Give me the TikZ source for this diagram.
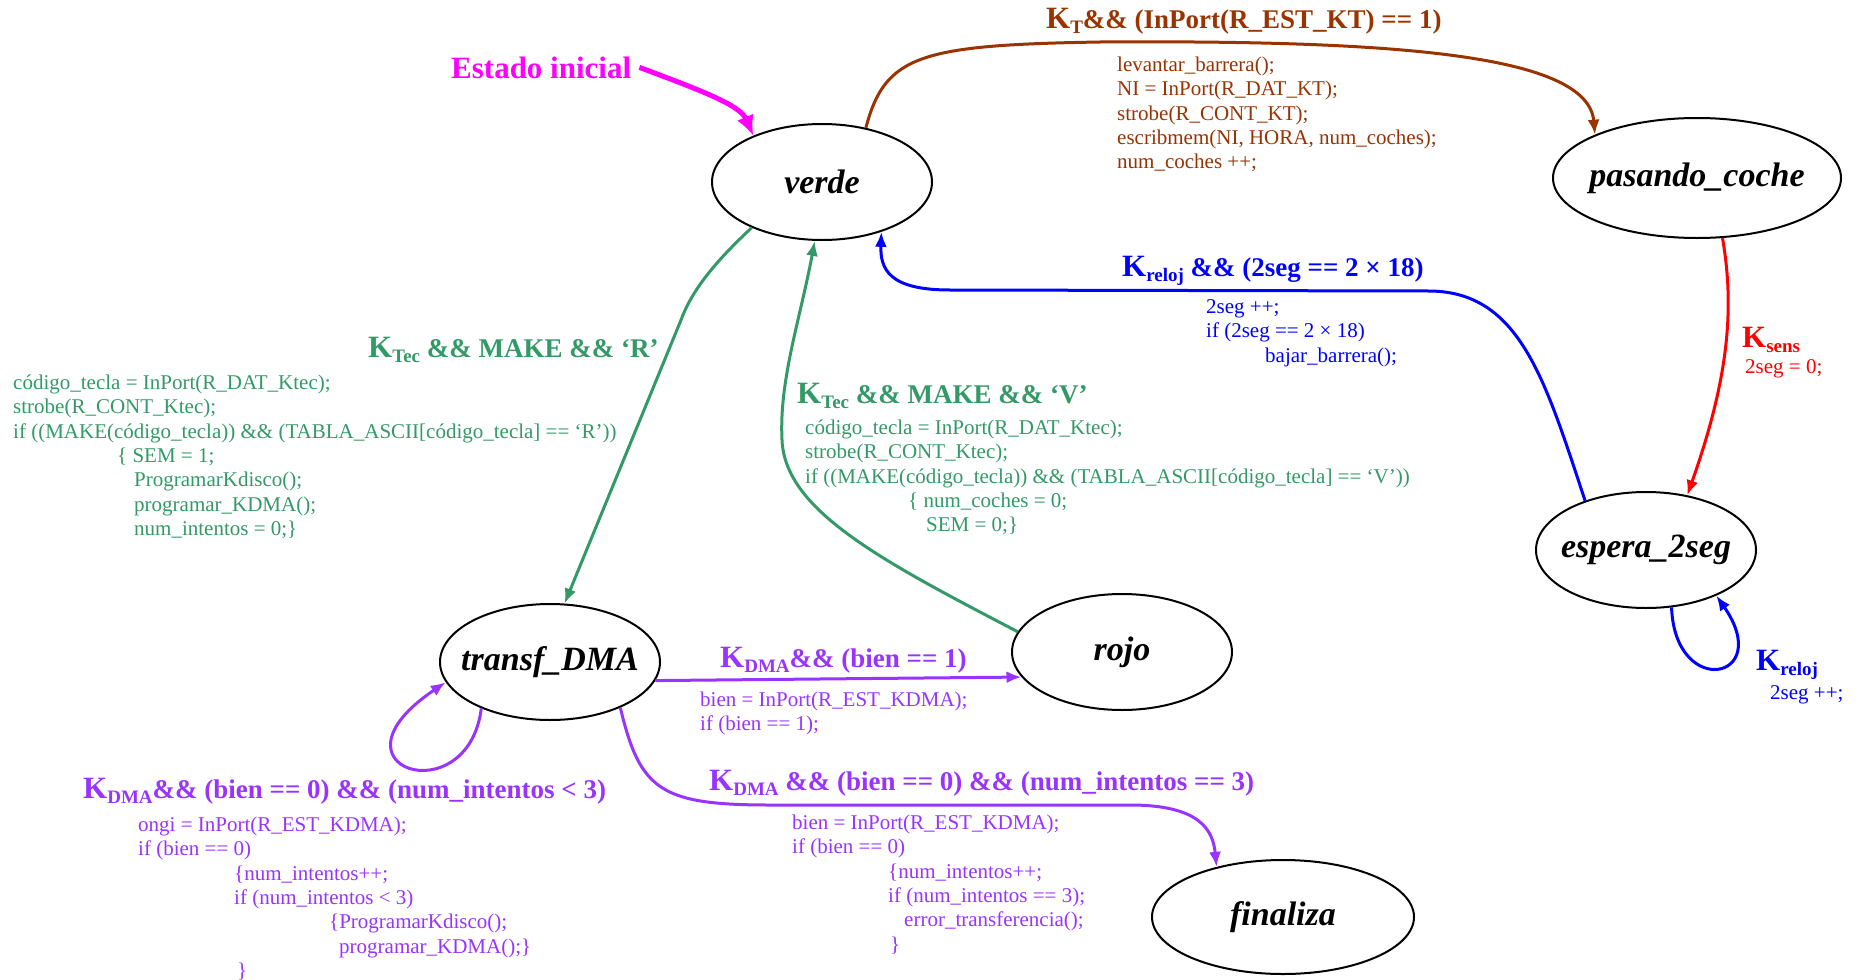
\documentclass[tikz,border=0pt]{standalone}
\usepackage{fontspec}
\setmainfont{Liberation Serif}
\usetikzlibrary{shapes.geometric,arrows.meta}
\definecolor{cbrown}{RGB}{153,51,0}
\definecolor{cgreen}{RGB}{51,153,102}
\definecolor{cblue}{RGB}{0,0,255}
\definecolor{cred}{RGB}{255,0,0}
\definecolor{cpurple}{RGB}{153,51,255}
\definecolor{cmag}{RGB}{255,0,255}
\newcommand{\KK}[1]{{\fontsize{31}{31}\selectfont K}\raisebox{-5.5pt}{\fontsize{19}{19}\selectfont #1}}
\newcommand{\stname}[1]{\makebox[0pt]{#1}}
\begin{document}
\begin{tikzpicture}[x=1pt,y=-1pt,
  stnode/.style={ellipse, draw=black, line width=2pt, inner sep=0pt,
    minimum width=220pt, minimum height=116pt,
    font=\fontsize{34}{34}\selectfont\bfseries\itshape},
  lbl/.style={anchor=base west, inner sep=0pt, font=\fontsize{27}{27}\selectfont\bfseries},
  codetxt/.style={anchor=north west, inner sep=0pt, align=left, font=\fontsize{21}{24.4}\selectfont},
  conn/.style={line width=3pt, -{Latex[length=15pt,width=12pt]}}]
\fill[white] (0,0) rectangle (1861,980);
\path[use as bounding box] (0,0) rectangle (1861,980);

% states
\node[stnode] (verde) at (822,182) {\stname{verde}};
\node[stnode, minimum width=288pt, minimum height=120pt] (pasando) at (1697,178) {\stname{pasando\_coche}};
\node[stnode] (espera) at (1646,550) {\stname{espera\_2seg}};
\node[stnode] (transf) at (550,662) {\stname{transf\_DMA}};
\node[stnode] (rojo) at (1122,652) {\stname{rojo}};
\node[stnode, minimum width=262pt, minimum height=114pt] (finaliza) at (1283,917) {\stname{finaliza}};

% initial state
\node[lbl, text=cmag, font=\fontsize{31}{31}\selectfont\bfseries] (ini) at (451,78) {Estado inicial};
\draw[cmag, line width=5pt, -{Latex[length=20pt,width=18pt]}] ([xshift=8pt]ini.east) .. controls (700,90) and (740,105) .. (verde.146);

% verde -> pasando_coche
\draw[conn, cbrown] (verde.51.5) .. controls (885,55) and (920,45) .. (1100,42) .. controls (1400,40) and (1588,55) .. (pasando.157);
\node[lbl, text=cbrown] (lT) at (1046,28) {\KK{T}\&\& (InPort(R\_EST\_KT) == 1)};
\node[codetxt, text=cbrown] (cT) at (1117,54) {\strut levantar\_barrera();\\NI = InPort(R\_DAT\_KT);\\strobe(R\_CONT\_KT);\\escribmem(NI, HORA, num\_coches);\\num\_coches ++;};

% pasando_coche -> espera_2seg
\draw[conn, cred] (pasando.293) .. controls (1735,310) and (1728,380) .. (espera.53.6);
\node[lbl, text=cred] (lS) at (1742,347) {\KK{sens}};
\node[codetxt, text=cred] (cS) at (1745,356) {\strut 2seg = 0;};

% espera_2seg self loop
\draw[conn, cblue] (espera.294.5) .. controls (1675,700) and (1775,680) .. (espera.327);
\node[lbl, text=cblue] (lR2) at (1756,670) {\KK{reloj}};
\node[codetxt, text=cblue] (cR2) at (1770,682) {\strut 2seg ++;};

% espera_2seg -> verde
\draw[conn, cblue] (espera.141.8) .. controls (1545,380) and (1520,292) .. (1430,291) -- (950,290) .. controls (890,290) and (880,270) .. (verde.320.7);
\node[lbl, text=cblue] (lR) at (1122,276) {\KK{reloj} \&\& (2seg == 2 × 18)};
\node[codetxt, text=cblue] (cR) at (1206,296) {\strut 2seg ++;\\if (2seg == 2 × 18)\\\hspace*{59pt}bajar\_barrera();};

% verde -> transf_DMA
\draw[conn, cgreen] (verde.213.5) .. controls (715,262) and (692,290) .. (681,320) -- (transf.76);
\node[lbl, text=cgreen] (lTR) at (368,357) {\KK{Tec} \&\& MAKE \&\& ‘R’};
\node[codetxt, text=cgreen] (cTR) at (13,372) {\strut código\_tecla = InPort(R\_DAT\_Ktec);\\strobe(R\_CONT\_Ktec);\\if ((MAKE(código\_tecla)) \&\& (TABLA\_ASCII[código\_tecla] == ‘R’))\\\hspace*{104pt}\{ SEM = 1;\\\hspace*{121pt}ProgramarKdisco();\\\hspace*{121pt}programar\_KDMA();\\\hspace*{121pt}num\_intentos = 0;\}};

% rojo -> verde
\draw[conn, cgreen] (rojo.169) .. controls (880,560) and (785,510) .. (782,440) .. controls (779,380) and (800,320) .. (verde.263);
\node[lbl, text=cgreen] (lTV) at (797,403) {\KK{Tec} \&\& MAKE \&\& ‘V’};
\node[codetxt, text=cgreen] (cTV) at (805,417) {\strut código\_tecla = InPort(R\_DAT\_Ktec);\\strobe(R\_CONT\_Ktec);\\if ((MAKE(código\_tecla)) \&\& (TABLA\_ASCII[código\_tecla] == ‘V’))\\\hspace*{103pt}\{ num\_coches = 0;\\\hspace*{121pt}SEM = 0;\}};

% transf_DMA -> rojo
\draw[conn, cpurple] (transf.350.7) -- (rojo.194);
\node[lbl, text=cpurple] (lD1) at (720,667) {\KK{DMA}\&\& (bien == 1)};
\node[codetxt, text=cpurple] (cD1) at (700,689) {\strut bien = InPort(R\_EST\_KDMA);\\if (bien == 1);};

% transf_DMA self loop
\draw[conn, cpurple] (transf.214) .. controls (468,815) and (318,768) .. (transf.191.7);
\node[lbl, text=cpurple] (lD2) at (83,798) {\KK{DMA}\&\& (bien == 0) \&\& (num\_intentos < 3)};
\node[codetxt, text=cpurple] (cD2) at (138,814) {\strut ongi = InPort(R\_EST\_KDMA);\\if (bien == 0)\\\hspace*{96pt}\{num\_intentos++;\\\hspace*{96pt}if (num\_intentos < 3)\\\hspace*{191pt}\{ProgramarKdisco();\\\hspace*{201pt}programar\_KDMA();\}\\\hspace*{99pt}\}};

% transf_DMA -> finaliza
\draw[conn, cpurple] (transf.327.8) .. controls (640,790) and (660,805) .. (770,805) -- (1130,805) .. controls (1200,805) and (1213,830) .. (finaliza.143.9);
\node[lbl, text=cpurple] (lD3) at (709,790) {\KK{DMA} \&\& (bien == 0) \&\& (num\_intentos == 3)};
\node[codetxt, text=cpurple] (cD3) at (792,812) {\strut bien = InPort(R\_EST\_KDMA);\\if (bien == 0)\\\hspace*{96pt}\{num\_intentos++;\\\hspace*{96pt}if (num\_intentos == 3);\\\hspace*{112pt}error\_transferencia();\\\hspace*{98pt}\}};
\end{tikzpicture}
\end{document}
